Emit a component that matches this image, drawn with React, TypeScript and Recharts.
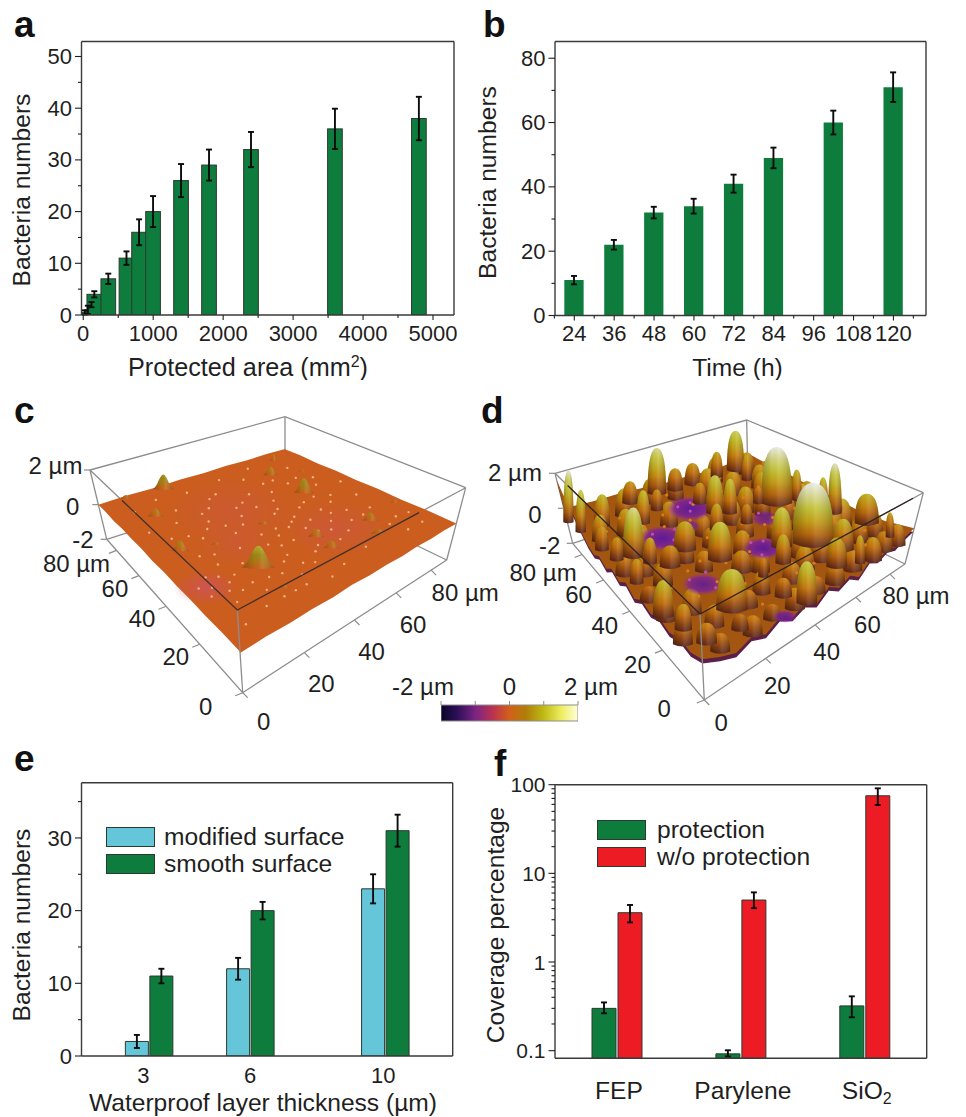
import React from 'react';
import { BarChart, Bar, XAxis, YAxis, ErrorBar, Legend, Label, ScatterChart, Scatter } from 'recharts';

// ---------- panel a ----------
const areaValues = [25, 68, 120, 160, 360, 620, 800, 1000, 1400, 1800, 2400, 3600, 4800];
const areaBacteria = [0.5, 1, 2, 4, 7, 11, 16, 20, 26, 29, 32, 36, 38];
const areaErrors = [0.4, 0.8, 0.5, 0.6, 1, 1.3, 2.5, 3, 3.2, 3, 3.4, 3.9, 4.2];
// ---------- panel b ----------
const timeValues = [24, 36, 48, 60, 72, 84, 102, 120];
const timeBacteria = [11, 22, 32, 34, 41, 49, 60, 71];
const timeErrors = [1.3, 1.5, 1.8, 2.3, 2.8, 3.2, 3.7, 4.6];
// ---------- panel e ----------
const thicknessValues = [3, 6, 10];
const modifiedValues = [2, 12, 23];
const modifiedErrors = [0.9, 1.5, 2];
const smoothValues = [11, 20, 31];
const smoothErrors = [1, 1.2, 2.2];
// ---------- panel f ----------
const materials = ['FEP', 'Parylene', 'SiO2'];
const protectionValues = [0.3, 0.092, 0.32];
const protectionErrors = [[0.036, 0.05], [0.006, 0.009], [0.082, 0.09]];
const noProtectionValues = [3.6, 5, 75];
const noProtectionErrors = [[0.8, 0.8], [0.95, 1.1], [16, 16]];
// ---------- panels c, d: surface features [u µm, v µm, top z µm, base width µm] ----------
const peaksC = [
  [24.5, 87, 0.85, 5.5], [22.5, 22.6, 1.15, 9], [65.6, 50, 0.85, 5.5], [65.8, 71, 0.5, 4], [69, 19.9, 0.45, 4.4],
  [47.2, 24.2, 0.4, 4.4], [9, 44.5, 0.55, 5], [12.5, 68.9, 0.45, 4.4], [46.3, 16.4, 0.4, 4.4], [64.5, 12.7, 0.25, 4.4],
  [22.4, 11, 0.2, 2.8], [38.7, 41, 0.2, 3.3], [9.8, 88.5, 0.2, 2.8], [19.5, 40.6, 0.15, 2.8], [86.3, 22.9, 0.2, 2.2],
  [76.8, 82.5, 0.4, 2], [78.8, 65.6, 0.12, 2.2],
];
const speckUV = [
  [5, 20], [8, 28], [12, 22], [14, 31], [9, 14], [17, 18], [20, 27], [26, 16], [30, 12], [33, 22], [37, 14], [40, 27], [43, 8], [48, 30],
  [52, 18], [55, 10], [58, 28], [61, 36], [64, 24], [68, 30], [72, 14], [76, 26], [80, 36], [84, 15], [72, 42], [66, 60], [58, 66], [52, 52],
  [46, 44], [42, 58], [36, 50], [30, 62], [25, 54], [20, 68], [16, 60], [10, 52], [6, 60], [8, 76], [18, 80], [30, 78], [38, 70], [46, 80],
  [54, 74], [62, 82], [70, 76], [78, 58], [84, 48], [76, 72], [34, 36], [28, 42], [24, 34], [18, 46], [12, 38], [40, 36], [50, 38], [44, 20],
  [60, 44], [68, 38], [28, 8], [36, 6], [14, 8], [6, 6], [74, 8], [82, 8],
  [4, 25], [7, 23], [10, 19], [11, 26], [15, 24], [13, 17], [18, 13], [22, 17], [24, 8], [32, 30], [35, 27], [38, 32], [44, 34], [47, 36],
  [53, 33], [56, 42], [49, 46], [44, 52], [38, 56], [33, 45], [28, 48], [22, 50], [15, 50], [26, 60], [34, 68], [48, 62], [56, 58], [63, 66],
  [72, 62], [74, 52], [66, 45], [62, 32], [70, 24], [78, 16], [54, 24], [58, 20], [50, 26], [41, 18], [34, 16], [30, 20], [20, 8], [16, 36],
];
const patchesC = [[5.8, 24.4, 11, 0.9], [35.7, 54.7, 22, 0.35], [55.6, 24, 18, 0.45], [24, 36, 14, 0.3]];
const sheetFrontLeftZ = [0, 0.03, -0.03, 0.03, 0.01, 0.04, -0.02, 0.03, 0, 0.02, -0.02, 0.01, -0.02];
const sheetFrontRightZ = [-0.08, -0.03, -0.06, -0.01, -0.05, 0.02, -0.03, 0, -0.04, 0.02, -0.01, 0.03, 0];
const sheetBackZ = [0.02, 0.05, 0.02, 0.06, 0.02, 0.05, 0.01, 0.04, 0];
const peaksD = [
  [84.5, 93, 1.4, 5.6], [40.4, 94, 1.7, 6], [75.7, 53.9, 2.3, 10], [64.3, 23, 2.4, 13.3], [9.9, 55.7, 1.7, 6.7], [31.8, 35.8, 1.1, 7.8],
  [25.8, 48.2, 0.6, 7.2], [19.7, 14.1, 1.1, 10], [53.8, 28.5, 1.2, 6.7], [47.1, 21, 0.6, 5], [33.3, 26.2, 0.15, 6.7], [16.7, 43, 0.15, 6.7],
  [49.8, 63.2, 1.2, 5.6], [50, 74.3, 0.2, 4.4], [54.6, 59.4, 1, 4.4], [48.6, 92, 0.3, 5], [26.8, 92.6, 0.3, 5], [72.3, 92.4, 0.5, 3.9],
  [88.3, 32.6, 1.9, 4.4], [86.7, 37.5, 0.9, 3.3], [91.7, 19.5, 0.7, 7.8], [69.3, 13.4, 0.75, 6.7], [59.6, 8.5, 0.6, 6.7], [38.5, 2.5, 1.2, 6.7],
  [35.2, 8.9, 0, 5.6], [3.2, 24, 0.85, 6.7], [4.2, 42, 0.3, 4.4], [4.8, 16.2, 0.3, 5.6], [16.6, 6.6, -0.2, 5.6], [3.3, 66.3, 0.3, 4.4],
  [4.7, 57.4, 0.25, 4.4], [1, 92.7, 2, 3.3], [2, 82.6, 1.4, 3.3], [37, 19.8, 0, 3.3], [42.5, 52.2, 0.5, 4.4], [23.2, 74, 0.9, 4.4],
  [32.7, 80.3, 0.2, 3.9], [54.7, 49, 0.1, 3.9], [90, 8, 0.4, 2.8], [84.7, 50.7, 0.8, 3.3], [81.3, 80.4, 0.5, 3.3], [6.9, 8.4, 0, 6.7],
  [12.5, 48.8, 0.4, 4.4], [67.3, 4.8, 0.55, 3.3], [69.5, 58.8, 0, 3.3],
];
const hillsD = [
  [8, 4, -0.1, 5], [18, 3, 0, 5], [26, 4, -0.2, 4.5], [34, 3, 0.1, 5], [44, 4, -0.1, 5], [52, 3, 0.2, 5], [62, 4, 0.1, 5], [72, 3, 0.3, 4.5], [80, 4, 0.1, 4.5], [87, 3, 0.2, 4],
  [2, 12, 0, 5], [12, 12, 0.1, 5], [24, 12, -0.1, 5], [31, 14, 0.2, 4.5], [42, 12, 0.1, 5], [50, 14, 0.3, 5], [58, 14, 0.4, 5], [66, 12, 0.5, 5], [78, 13, 0.4, 4.5], [86, 12, 0.3, 4.5],
  [3, 22, 0.1, 5], [10, 20, 0.3, 5], [28, 22, 0, 4], [38, 22, 0.2, 4.5], [54, 20, 0.3, 4.5], [74, 22, 0.5, 5], [82, 24, 0.6, 5],
  [3, 32, -0.2, 4.5], [10, 36, 0.2, 5], [24, 34, 0.1, 4.5], [40, 34, 0.3, 4.5], [56, 34, 0.3, 4.5], [68, 32, 0.5, 5], [78, 34, 0.6, 4.5],
  [3, 48, 0.1, 4.5], [8, 44, 0.3, 4.5], [22, 42, 0.2, 4.5], [34, 44, 0.1, 4.5], [48, 42, 0.2, 4.5], [62, 36, 0.2, 4], [70, 42, 0.3, 4.5], [80, 44, 0.5, 4.5],
  [14, 58, 0.4, 4.5], [28, 50, 0, 4], [36, 52, 0.2, 4], [50, 52, 0.4, 4.5], [64, 50, 0.3, 4], [76, 48, 0.2, 4], [86, 46, 0.3, 4],
  [5, 72, 0.5, 4], [14, 70, 0.5, 4.5], [30, 66, 0.4, 4.5], [48, 58, 0.4, 4], [60, 56, 0.5, 4.5], [74, 62, 0.5, 4], [84, 60, 0.3, 4],
  [10, 82, 0.8, 4], [20, 84, 0.6, 4.5], [34, 88, 0.4, 4.5], [44, 84, 0.5, 4], [58, 80, 0.5, 4.5], [66, 72, 0.4, 4.5], [80, 70, 0.4, 4], [88, 74, 0.2, 4],
  [58, 92, 0.3, 4], [68, 88, 0.5, 4], [86, 86, 0.3, 4],
];
const patchesD = [[22, 56.6, 8, 1], [41.8, 69, 8, 1], [45.8, 29.4, 7, 1], [18.4, 26.5, 7, 0.9], [86, 34, 5, 0.9], [28, 1, 4, 0.9], [60, 44, 5, 0.8], [34, 58, 4, 0.8]];
const rubbleD = [
  [10, 30], [14, 22], [22, 24], [28, 18], [30, 30], [24, 36], [38, 42], [40, 30], [46, 38], [56, 40], [62, 42], [66, 34], [70, 28], [78, 24],
  [82, 14], [74, 8], [52, 12], [44, 12], [26, 8], [10, 6], [18, 34], [36, 60], [44, 70], [60, 72], [68, 84], [30, 70], [20, 66], [12, 62],
  [58, 54], [64, 62], [76, 66], [74, 42], [50, 46], [34, 46], [26, 62], [40, 84], [56, 84], [16, 78], [8, 72],
];
const specksPurpleD = [[24, 52], [20, 60], [28, 58], [40, 66], [44, 72], [38, 72], [48, 32], [42, 26], [44, 34], [20, 22], [16, 30], [22, 30], [60, 48], [88, 30], [84, 38]];
const edgeFrontLeftZ = [1.6, 0.8, 0.3, -0.3, -0.8, -1, -0.7, -1, -0.6, -0.9, -0.5, -0.9, -0.5, -0.7, -0.4, -0.6, -0.3, -0.4, -0.1];
const edgeFrontRightZ = [-0.1, -0.5, -0.8, -0.5, -0.8, -0.4, -0.8, -0.5, -0.9, -0.4, -0.8, -0.5, -0.9, -0.3, -0.6, -0.3, -0.5, -0.2, 0];
// ---------- 3D axes ----------
const gridTicks = [0, 20, 40, 60, 80];
const heightTicks = [2, 0, -2];
const colorbarTicks = [-2, -1, 0, 1, 2];
const colorbarRange = [{ band: 'height', range: [-2, 2] }];
const colorbarStops = [[0, '#0a0528'], [0.12, '#2e0f58'], [0.25, '#7a2484'], [0.38, '#bb3350'], [0.5, '#d2601a'], [0.62, '#b07e08'], [0.75, '#c0ba14'], [0.88, '#eeee60'], [1, '#ffffdc']];

const ink = '#1f1f1f';
const green = '#0e7c3d';
const cyan = '#66c6d9';
const red = '#ed1c24';
const barEdge = '#2b3a30';
const frame = { stroke: '#3a3a3a', strokeWidth: 1.4 };
const FONT = '"Liberation Sans", Arial, sans-serif';

const zip = (xs: number[], ys: number[], es: number[]) => xs.map((x, i) => ({ x, value: ys[i], err: es[i] }));
const dataA = zip(areaValues, areaBacteria, areaErrors);
const dataB = zip(timeValues, timeBacteria, timeErrors);
const dataE = thicknessValues.map((x, i) => ({ x, modified: modifiedValues[i], modifiedErr: modifiedErrors[i], smooth: smoothValues[i], smoothErr: smoothErrors[i] }));
const dataF = materials.map((name, i) => ({ name, protection: protectionValues[i], protectionErr: protectionErrors[i], none: noProtectionValues[i], noneErr: noProtectionErrors[i] }));

// ---------- ticks ----------
const leftTick = (majors: number[], font = 22, fmt = (v: number) => String(v)) => (p: any) => {
  const v = p.payload.value;
  const major = majors.includes(v);
  return (
    <g>
      <line x1={p.x} x2={p.x - (major ? 6.5 : 3.5)} y1={p.y} y2={p.y} stroke={ink} strokeWidth={1.1} />
      {major ? <text x={p.x - 9.5} y={p.y + 7.6} textAnchor="end" fontSize={font} fill={ink}>{fmt(v)}</text> : null}
    </g>
  );
};
const rightTick = (majors: number[]) => (p: any) => (
  <line x1={p.x} x2={p.x - (majors.includes(p.payload.value) ? 5 : 3)} y1={p.y} y2={p.y} stroke={ink} strokeWidth={1.1} />
);
const bottomTick = (majors: number[]) => (p: any) => {
  const v = p.payload.value;
  const major = majors.includes(v);
  return (
    <g>
      <line x1={p.x} x2={p.x} y1={p.y} y2={p.y + (major ? 5 : 3)} stroke={ink} strokeWidth={1.1} />
      {major ? <text x={p.x} y={p.y + 25.8} textAnchor="middle" fontSize={22} fill={ink}>{v}</text> : null}
    </g>
  );
};
const thicknessLabelShift: Record<number, number> = { 3: -5.5, 6: 0, 10: -2 };
const thicknessTick = (p: any) => (
  <text x={p.x + thicknessLabelShift[p.payload.value]} y={p.y + 26.5} textAnchor="middle" fontSize={22} fill={ink}>{p.payload.value}</text>
);
const materialTick = (p: any) => {
  const v: string = p.payload.value;
  return (
    <text x={p.x + 2} y={p.y + 41} textAnchor="middle" fontSize={24.6} fill={ink}>
      {v === 'SiO2' ? (<><tspan>SiO</tspan><tspan fontSize={16} dy={5}>2</tspan></>) : v}
    </text>
  );
};
const yTitle = (text: string, x: number, y: number) => () => (
  <text x={x} y={y} textAnchor="middle" fontSize={24.6} fill={ink} transform={`rotate(-90 ${x} ${y})`}>{text}</text>
);
const xTitle = (text: React.ReactNode, x: number, y: number, size = 24.6) => () => (
  <text x={x} y={y} textAnchor="middle" fontSize={size} fill={ink}>{text}</text>
);
const areaBar = (p: any) => {
  const w = p.payload.value < 3 ? 7 : 14.7;
  return <rect x={p.x + p.width / 2 - w / 2} y={p.y} width={w} height={p.height} fill={green} stroke={barEdge} strokeWidth={1} />;
};
const errorStyle = { stroke: '#0c0c0c', strokeWidth: 1.9, isAnimationActive: false };
const legendColors: Record<string, string> = { 'modified surface': cyan, 'smooth surface': green, protection: green, 'w/o protection': red };
const legendBox = (names: string[], gap: number) => () => (
  <div>
    {names.map((n) => (
      <div key={n} style={{ display: 'flex', alignItems: 'center', height: 27, whiteSpace: 'nowrap', fontSize: 24.6, color: ink, fontFamily: FONT }}>
        <span style={{ display: 'inline-block', boxSizing: 'border-box', width: 49, height: 20, background: legendColors[n], border: `1px solid ${barEdge}`, marginRight: gap }} />
        {n}
      </div>
    ))}
  </div>
);

// ---------- perspective helpers for c, d ----------
type Pt = number[];
type Cam = { top: Pt[]; bottom: Pt[] };
const planeMap = ([o, r, b, l]: Pt[]) => {
  const sx = o[0] - r[0] + b[0] - l[0];
  const sy = o[1] - r[1] + b[1] - l[1];
  const dx1 = r[0] - b[0], dx2 = l[0] - b[0], dy1 = r[1] - b[1], dy2 = l[1] - b[1];
  const den = dx1 * dy2 - dx2 * dy1;
  const g = (sx * dy2 - dx2 * sy) / den;
  const h = (dx1 * sy - sx * dy1) / den;
  return (s: number, t: number) => {
    const w = g * s + h * t + 1;
    return [
      ((r[0] - o[0] + g * r[0]) * s + (l[0] - o[0] + h * l[0]) * t + o[0]) / w,
      ((r[1] - o[1] + g * r[1]) * s + (l[1] - o[1] + h * l[1]) * t + o[1]) / w,
    ];
  };
};
const makeProjection = (cam: Cam) => {
  const top = planeMap(cam.top);
  const bottom = planeMap(cam.bottom);
  return (u: number, v: number, z: number) => {
    const a = top(u / 90, v / 90), b = bottom(u / 90, v / 90), k = (z + 2) / 4;
    return { x: b[0] + (a[0] - b[0]) * k, y: b[1] + (a[1] - b[1]) * k };
  };
};
const camC: Cam = { top: [[237.3, 610], [465.7, 487.7], [285, 416.7], [90, 470]], bottom: [[242.7, 692.7], [446.7, 560], [285, 482], [106.7, 539.3]] };
const camD: Cam = { top: [[700, 614], [923.3, 492.7], [746.7, 420], [555, 473.3]], bottom: [[704.3, 700], [905, 564], [748, 486], [572.7, 543.3]] };
const projC = makeProjection(camC);
const projD = makeProjection(camD);

const hexLerp = (a: string, b: string, t: number) => {
  const p = (h: string, i: number) => parseInt(h.slice(1 + i * 2, 3 + i * 2), 16);
  const c = [0, 1, 2].map((i) => Math.round(p(a, i) + (p(b, i) - p(a, i)) * t));
  return `rgb(${c[0]},${c[1]},${c[2]})`;
};
const rampD: [number, string][] = [[-1, '#5a2418'], [-0.6, '#94470f'], [-0.2, '#c8720c'], [0.3, '#c49a12'], [0.9, '#c2c02c'], [1.5, '#cfcf60'], [2, '#e6e6d6'], [2.5, '#f2f2f2']];
const rampC: [number, string][] = [[0, '#c9601c'], [0.3, '#b87414'], [0.7, '#9c8a14'], [1.2, '#c0b030']];
const rampColor = (ramp: [number, string][], z: number) => {
  if (z <= ramp[0][0]) return ramp[0][1];
  for (let i = 1; i < ramp.length; i++) {
    if (z <= ramp[i][0]) return hexLerp(ramp[i - 1][1], ramp[i][1], (z - ramp[i - 1][0]) / (ramp[i][0] - ramp[i - 1][0]));
  }
  return ramp[ramp.length - 1][1];
};

const lineOf = (proj: any, pts: number[][]) => pts.map(([u, v, z]) => proj(u, v, z));
const edgesBehind = [
  [[0, 90, 2], [90, 90, 2], [90, 0, 2]],
  [[0, 90, -2], [90, 90, -2], [90, 0, -2]],
  [[90, 90, 2], [90, 90, -2]],
  [[0, 90, 2], [0, 90, -2]],
  [[90, 0, 2], [90, 0, -2]],
  [[0, 90, -2], [0, 0, -2], [90, 0, -2]],
  [[0, 90, 2], [0, 0, 2], [90, 0, 2]],
];
const edgeFront = [[0, 0, 2], [0, 0, -2]];
const darkEdgeC = [[0, 62, 2], [0, 0, 2], [65, 0, 2]];
const darkEdgeD = [[0, 78, 2], [0, 0, 2], [84, 0, 2]];

const polygonPath = (p: any) => {
  const dx = p.cx - p.payload.x, dy = p.cy - p.payload.y;
  return p.payload.poly.map((q: any, i: number) => `${i ? 'L' : 'M'}${q.x + dx},${q.y + dy}`).join('') + 'Z';
};
const perimeter = (proj: any, leftZ: number[], rightZ: number[], backZ: number[], sink = 0) => {
  const n = leftZ.length - 1, m = rightZ.length - 1, b = backZ.length - 1;
  const pts: any[] = [];
  leftZ.forEach((z, i) => pts.push(proj(0, 90 - (90 * i) / n, z - sink)));
  rightZ.forEach((z, i) => pts.push(proj((90 * i) / m, 0, z - sink)));
  backZ.forEach((z, i) => pts.push(proj(90, (90 * i) / b, z - sink)));
  backZ.forEach((z, i) => pts.push(proj(90 - (90 * i) / b, 90, z - sink)));
  return pts;
};
const polygonDatum = (proj: any, poly: any[]) => [{ ...proj(45, 45, 0), poly }];

const peakData = (proj: any, list: number[][], baseZ: number, tag: string, spread: number) =>
  [...list].sort((p, q) => q[0] + q[1] - (p[0] + p[1])).map((p, i) => {
    const base = proj(p[0], p[1], baseZ);
    const top = proj(p[0], p[1], p[2]);
    return { ...base, H: base.y - top.y, hw: p[3] * spread, zTop: p[2], baseZ, id: `${tag}${i}` };
  });
const peakShape = (ramp: [number, string][], shadeId: string, bullet: boolean) => (p: any) => {
  const { H, hw, zTop, baseZ, id } = p.payload;
  const { cx, cy } = p;
  const d = bullet
    ? `M${cx - hw},${cy} C${cx - hw},${cy - H * 0.62} ${cx - hw * 0.72},${cy - H} ${cx},${cy - H} C${cx + hw * 0.72},${cy - H} ${cx + hw},${cy - H * 0.62} ${cx + hw},${cy} Q${cx},${cy + hw * 0.45} ${cx - hw},${cy} Z`
    : `M${cx - hw * 1.25},${cy} C${cx - hw * 0.7},${cy - H * 0.12} ${cx - hw * 0.42},${cy - H} ${cx},${cy - H} C${cx + hw * 0.42},${cy - H} ${cx + hw * 0.7},${cy - H * 0.12} ${cx + hw * 1.25},${cy} Q${cx},${cy + hw * 0.25} ${cx - hw * 1.25},${cy} Z`;
  const fr = [0, 0.2, 0.4, 0.6, 0.8, 1];
  return (
    <g>
      <linearGradient id={id} x1="0" y1="0" x2="0" y2="1">
        {fr.map((f) => <stop key={f} offset={f} stopColor={rampColor(ramp, zTop + (baseZ - zTop) * f)} />)}
      </linearGradient>
      <path d={d} fill={`url(#${id})`} />
      <path d={d} fill={`url(#${shadeId})`} />
    </g>
  );
};
const textShape = (size: number) => (p: any) => (
  <text x={p.cx + p.payload.dx} y={p.cy + p.payload.dy} textAnchor="middle" dy="0.36em" fontSize={size} fill={ink}>{p.payload.text}</text>
);
const tickShape = (p: any) => (
  <line x1={p.cx} y1={p.cy} x2={p.cx + p.payload.tx} y2={p.cy + p.payload.ty} stroke="#8d8d8d" strokeWidth={1.2} />
);
const dotShape = (fill: string, r: number) => (p: any) => <circle cx={p.cx} cy={p.cy} r={r} fill={fill} />;
const patchShape = (gradId: string) => (p: any) => (
  <ellipse cx={p.cx} cy={p.cy} rx={p.payload.r * 3} ry={p.payload.r * 1.6} fill={`url(#${gradId})`} opacity={p.payload.o} />
);
const noMark = () => <g />;

type Off = Record<string, number[]>;
const pick = (o: Off, k: number) => o[k] ?? o.other;
const axisLabels = (proj: any, left: Off, right: Off, zOff: Off, lastText: string) => {
  const out: any[] = [];
  gridTicks.forEach((t) => {
    const a = proj(0, t, -2), oa = pick(left, t);
    out.push({ ...a, dx: oa[0], dy: oa[1], text: t === 80 ? lastText : String(t) });
    const b = proj(t, 0, -2), ob = pick(right, t);
    out.push({ ...b, dx: ob[0], dy: ob[1], text: t === 80 ? lastText : String(t) });
  });
  heightTicks.forEach((z) => {
    const c = proj(0, 90, z), oc = pick(zOff, z);
    out.push({ ...c, dx: oc[0], dy: oc[1], text: z === 2 ? `2 ${'\u00b5'}m` : String(z) });
  });
  return out;
};
const axisMarks = (proj: any) => {
  const out: any[] = [];
  gridTicks.forEach((t) => {
    out.push({ ...proj(0, t, -2), tx: -7.5, ty: 3 });
    out.push({ ...proj(t, 0, -2), tx: 5, ty: 5 });
  });
  heightTicks.forEach((z) => out.push({ ...proj(0, 90, z), tx: -6, ty: 0 }));
  return out;
};

const SurfaceAxes = ({ w, h, xMin, yMin, children }: any) => (
  <ScatterChart width={w} height={h} margin={{ top: 0, right: 0, bottom: 0, left: 0 }}>
    <XAxis type="number" dataKey="x" domain={[xMin, xMin + w]} hide allowDataOverflow />
    <YAxis type="number" dataKey="y" domain={[yMin, yMin + h]} reversed hide allowDataOverflow />
    {children}
  </ScatterChart>
);
const edge = (k: any, data: any[], stroke: string, width = 1.3) => (
  <Scatter key={k} data={data} line={{ stroke, strokeWidth: width }} lineType="joint" shape={noMark} isAnimationActive={false} />
);

const labelsC = axisLabels(projC, { 0: [-37, 14], 80: [-40, 13], other: [-24, 12.5] }, { 0: [21, 29], 80: [34, 22], other: [17, 31] }, { 2: [-34.5, -5], 0: [-25.6, 2], '-2': [-23.7, 0] }, `80 ${'\u00b5'}m`);
const labelsD = axisLabels(projD, { 0: [-40, 8], 80: [-39, 18], other: [-25, 14] }, { 0: [17, 22], 80: [26, 21], other: [11.5, 27] }, { 2: [-40, -0.6], 0: [-29, 6], '-2': [-23, 2] }, `80 ${'\u00b5'}m`);

function PanelC() {
  const sheet = polygonDatum(projC, perimeter(projC, sheetFrontLeftZ, sheetFrontRightZ, sheetBackZ));
  return (
    <SurfaceAxes w={510} h={345} xMin={0} yMin={390}>
      <defs>
        <radialGradient id="pinkC"><stop offset="0" stopColor="#d0506a" stopOpacity={0.75} /><stop offset="1" stopColor="#d0506a" stopOpacity={0} /></radialGradient>
        <linearGradient id="shade" x1="0" y1="0" x2="1" y2="0">
          <stop offset="0" stopColor="#000" stopOpacity={0.25} /><stop offset="0.4" stopColor="#000" stopOpacity={0.02} />
          <stop offset="0.6" stopColor="#fff" stopOpacity={0.1} /><stop offset="1" stopColor="#000" stopOpacity={0.25} />
        </linearGradient>
      </defs>
      {edgesBehind.map((e, i) => edge(`c${i}`, lineOf(projC, e), '#8d8d8d'))}
      <Scatter data={sheet} shape={(p: any) => <path d={polygonPath(p)} fill="#cb5d1e" />} isAnimationActive={false} />
      <Scatter data={patchesC.map(([u, v, r, o]) => ({ ...projC(u, v, 0), r, o }))} shape={patchShape('pinkC')} isAnimationActive={false} />
      <Scatter data={speckUV.map(([u, v]) => projC(u, v, 0.02))} shape={dotShape('#f0b083', 1.2)} isAnimationActive={false} />
      <Scatter data={peakData(projC, peaksC, 0, 'pc', 1.5)} shape={peakShape(rampC, 'shade', false)} isAnimationActive={false} />
      {edge('cf', lineOf(projC, edgeFront), '#8d8d8d')}
      {edge('cd', lineOf(projC, darkEdgeC), '#40302a')}
      <Scatter data={axisMarks(projC)} shape={tickShape} isAnimationActive={false} />
      <Scatter data={labelsC} shape={textShape(24)} isAnimationActive={false} />
    </SurfaceAxes>
  );
}
function PanelD() {
  const backZ = [0, -0.3, -0.4, -0.3, -0.3, -0.2, -0.1, -0.1, 0];
  const skirt = polygonDatum(projD, perimeter(projD, edgeFrontLeftZ, edgeFrontRightZ, backZ, 0.2));
  const floor = polygonDatum(projD, perimeter(projD, edgeFrontLeftZ, edgeFrontRightZ, backZ));
  return (
    <SurfaceAxes w={486} h={345} xMin={480} yMin={390}>
      <defs>
        <radialGradient id="purpleD"><stop offset="0" stopColor="#5d1a96" /><stop offset="0.65" stopColor="#7a209a" stopOpacity={0.85} /><stop offset="1" stopColor="#a0309a" stopOpacity={0} /></radialGradient>
        <linearGradient id="shadeD" x1="0" y1="0" x2="1" y2="0">
          <stop offset="0" stopColor="#000" stopOpacity={0.28} /><stop offset="0.35" stopColor="#000" stopOpacity={0.02} />
          <stop offset="0.55" stopColor="#fff" stopOpacity={0.1} /><stop offset="1" stopColor="#000" stopOpacity={0.25} />
        </linearGradient>
      </defs>
      {edgesBehind.map((e, i) => edge(`d${i}`, lineOf(projD, e), '#8d8d8d'))}
      <Scatter data={skirt} shape={(p: any) => <path d={polygonPath(p)} fill="#5c1f48" />} isAnimationActive={false} />
      <Scatter data={floor} shape={(p: any) => <path d={polygonPath(p)} fill="#a2560f" />} isAnimationActive={false} />
      <Scatter data={peakData(projD, hillsD, -1, 'hd', 2)} shape={peakShape(rampD, 'shadeD', true)} isAnimationActive={false} />
      <Scatter data={patchesD.map(([u, v, r, o]) => ({ ...projD(u, v, -0.7), r, o }))} shape={patchShape('purpleD')} isAnimationActive={false} />
      <Scatter data={rubbleD.map(([u, v]) => projD(u, v, -0.6))} shape={dotShape('#d87c1a', 1.6)} isAnimationActive={false} />
      <Scatter data={specksPurpleD.map(([u, v]) => projD(u, v, -0.6))} shape={dotShape('#c24bb0', 1.6)} isAnimationActive={false} />
      <Scatter data={peakData(projD, peaksD, -1, 'pd', 1.55)} shape={peakShape(rampD, 'shadeD', true)} isAnimationActive={false} />
      {edge('df', lineOf(projD, edgeFront), '#8d8d8d')}
      {edge('dd', lineOf(projD, darkEdgeD), '#2e2320')}
      <Scatter data={axisMarks(projD)} shape={tickShape} isAnimationActive={false} />
      <Scatter data={labelsD} shape={textShape(24)} isAnimationActive={false} />
    </SurfaceAxes>
  );
}
const colorbarTick = (p: any) => {
  const v = p.payload.value;
  const text = v === -2 ? `-2 ${'\u00b5'}m` : v === 2 ? `2 ${'\u00b5'}m` : v === 0 ? '0' : '';
  const shift = v === -2 ? -18 : v === 2 ? 13 : 0;
  return (
    <g>
      <line x1={p.x} x2={p.x} y1={p.y} y2={p.y - 4} stroke="#8d8d8d" strokeWidth={1} />
      <text x={p.x + shift} y={p.y - 10.5} textAnchor="middle" fontSize={24} fill={ink}>{text}</text>
    </g>
  );
};
function Colorbar() {
  return (
    <BarChart layout="vertical" width={240} height={55} data={colorbarRange} barCategoryGap={0} margin={{ top: 0, right: 52, bottom: 6.3, left: 51 }}>
      <defs>
        <linearGradient id="cbar" x1="0" y1="0" x2="1" y2="0">
          {colorbarStops.map(([o, c]) => <stop key={o as number} offset={o as number} stopColor={c as string} />)}
        </linearGradient>
      </defs>
      <XAxis type="number" orientation="top" domain={[-2, 2]} ticks={colorbarTicks} interval={0} height={33} axisLine={false} tickLine={false} tickSize={0} tickMargin={0} tick={colorbarTick} allowDataOverflow />
      <YAxis type="category" dataKey="band" hide />
      <Bar dataKey="range" fill="url(#cbar)" stroke="#8d8d8d" strokeWidth={1} isAnimationActive={false} />
    </BarChart>
  );
}

const ticksA = [0, 5, 10, 15, 20, 25, 30, 35, 40, 45, 50];
const ticksAx = [0, 500, 1000, 1500, 2000, 2500, 3000, 3500, 4000, 4500, 5000];
const ticksB = [0, 10, 20, 30, 40, 50, 60, 70, 80];
const ticksBx = [18, 24, 30, 36, 42, 48, 54, 60, 66, 72, 78, 84, 90, 96, 102, 108, 114, 120, 126];
const ticksE = [0, 5, 10, 15, 20, 25, 30, 35];
const ticksF = [0.1, 0.2, 0.3, 0.4, 0.5, 0.6, 0.7, 0.8, 0.9, 1, 2, 3, 4, 5, 6, 7, 8, 9, 10, 20, 30, 40, 50, 60, 70, 80, 90, 100];
const axisZero = { tickSize: 0, tickMargin: 0, tickLine: false, interval: 0 as const };
const unitDomain: [number, number] = [0, 1];

const PanelLetter = ({ t, x, base }: any) => (
  <div style={{ position: 'absolute', left: x, top: base - 31.3, fontSize: 37, lineHeight: 1, fontWeight: 700, color: '#111', fontFamily: FONT }}>{t}</div>
);
const Place = ({ x, y, children }: any) => <div style={{ position: 'absolute', left: x, top: y }}>{children}</div>;

export default function App() {
  return (
    <div style={{ position: 'absolute', left: 0, top: 0, width: 966, height: 1117, background: '#fff', fontFamily: FONT, overflow: 'hidden' }}>
      <Place x={0} y={30}>
        <BarChart width={470} height={350} data={dataA} margin={{ top: 10.5, right: 15, bottom: 0, left: 0 }}>
          <XAxis type="number" dataKey="x" domain={[-25, 5300]} ticks={ticksAx} height={65} axisLine={frame} tick={bottomTick([0, 1000, 2000, 3000, 4000, 5000])} {...axisZero} allowDataOverflow>
            <Label content={xTitle(<><tspan>Protected area (mm</tspan><tspan fontSize={16} dy={-9}>2</tspan><tspan dy={9}>)</tspan></>, 248, 346, 25.2)} />
          </XAxis>
          <XAxis xAxisId="t" orientation="top" type="number" domain={unitDomain} height={1} tick={false} axisLine={frame} tickLine={false} />
          <YAxis type="number" domain={[0, 52.9]} ticks={ticksA} width={81.5} axisLine={frame} tick={leftTick([0, 10, 20, 30, 40, 50])} {...axisZero} allowDataOverflow>
            <Label content={yTitle('Bacteria numbers', 30, 160)} />
          </YAxis>
          <YAxis yAxisId="r" orientation="right" type="number" domain={[0, 52.9]} ticks={ticksA} width={1} axisLine={frame} tick={rightTick([0, 10, 20, 30, 40, 50])} {...axisZero} />
          <Bar dataKey="value" barSize={14.7} shape={areaBar} isAnimationActive={false}>
            <ErrorBar dataKey="err" width={3} {...errorStyle} />
          </Bar>
        </BarChart>
      </Place>

      <Place x={470} y={30}>
        <BarChart width={480} height={350} data={dataB} margin={{ top: 10.5, right: 23, bottom: 0, left: 0 }}>
          <XAxis type="number" dataKey="x" domain={[18.2, 129.8]} ticks={ticksBx} height={64.5} axisLine={frame} tick={bottomTick([24, 36, 48, 60, 72, 84, 96, 108, 120])} {...axisZero} allowDataOverflow>
            <Label content={xTitle('Time (h)', 267.5, 346)} />
          </XAxis>
          <XAxis xAxisId="t" orientation="top" type="number" domain={unitDomain} height={1} tick={false} axisLine={frame} tickLine={false} />
          <YAxis type="number" domain={[0, 85.2]} ticks={ticksB} width={85} axisLine={frame} tick={leftTick([0, 20, 40, 60, 80])} {...axisZero} allowDataOverflow>
            <Label content={yTitle('Bacteria numbers', 26, 152.5)} />
          </YAxis>
          <YAxis yAxisId="r" orientation="right" type="number" domain={unitDomain} width={1} axisLine={frame} tick={false} tickLine={false} />
          <Bar dataKey="value" barSize={19.3} fill={green} isAnimationActive={false}>
            <ErrorBar dataKey="err" width={3} {...errorStyle} />
          </Bar>
        </BarChart>
      </Place>

      <Place x={0} y={390}><PanelC /></Place>
      <Place x={480} y={390}><PanelD /></Place>
      <Place x={390} y={672}><Colorbar /></Place>

      <Place x={0} y={745}>
        <BarChart width={470} height={372} data={dataE} barGap={1.5} margin={{ top: 36.7, right: 16.3, bottom: 0, left: 0 }}>
          <XAxis type="number" dataKey="x" domain={[1, 12]} ticks={thicknessValues} height={61} axisLine={frame} tick={thicknessTick} {...axisZero} allowDataOverflow>
            <Label content={xTitle('Waterproof layer thickness (\u00b5m)', 263, 366)} />
          </XAxis>
          <XAxis xAxisId="t" orientation="top" type="number" domain={unitDomain} height={1} tick={false} axisLine={frame} tickLine={false} />
          <YAxis type="number" domain={[0, 37.6]} ticks={ticksE} width={81.5} axisLine={frame} tick={leftTick([0, 10, 20, 30])} {...axisZero} allowDataOverflow>
            <Label content={yTitle('Bacteria numbers', 30, 180)} />
          </YAxis>
          <YAxis yAxisId="r" orientation="right" type="number" domain={unitDomain} width={1} axisLine={frame} tick={false} tickLine={false} />
          <Legend layout="horizontal" align="center" verticalAlign="middle" wrapperStyle={{ left: 106, top: 78.5, width: 280, height: 56 }} content={legendBox(['modified surface', 'smooth surface'], 9)} />
          <Bar dataKey="modified" name="modified surface" barSize={23} fill={cyan} stroke={barEdge} isAnimationActive={false}>
            <ErrorBar dataKey="modifiedErr" width={3} {...errorStyle} />
          </Bar>
          <Bar dataKey="smooth" name="smooth surface" barSize={23} fill={green} stroke={barEdge} isAnimationActive={false}>
            <ErrorBar dataKey="smoothErr" width={3} {...errorStyle} />
          </Bar>
        </BarChart>
      </Place>

      <Place x={480} y={745}>
        <BarChart width={486} height={372} data={dataF} barGap={2} margin={{ top: 38.7, right: 38.3, bottom: 0, left: 0 }}>
          <XAxis type="category" dataKey="name" height={58.7} axisLine={frame} tick={materialTick} {...axisZero} />
          <XAxis xAxisId="t" orientation="top" type="number" domain={unitDomain} height={1} tick={false} axisLine={frame} tickLine={false} />
          <YAxis type="number" scale="log" domain={[0.082, 100]} ticks={ticksF} width={75} axisLine={frame} tick={leftTick([0.1, 1, 10, 100], 21)} {...axisZero} allowDataOverflow>
            <Label content={yTitle('Coverage percentage', 24, 180)} />
          </YAxis>
          <YAxis yAxisId="r" orientation="right" type="number" domain={unitDomain} width={1} axisLine={frame} tick={false} tickLine={false} />
          <Legend layout="horizontal" align="center" verticalAlign="middle" wrapperStyle={{ left: 117, top: 71.5, width: 280, height: 56 }} content={legendBox(['protection', 'w/o protection'], 11)} />
          <Bar dataKey="protection" name="protection" barSize={24} fill={green} stroke={barEdge} isAnimationActive={false}>
            <ErrorBar dataKey="protectionErr" width={3} {...errorStyle} />
          </Bar>
          <Bar dataKey="none" name="w/o protection" barSize={24} fill={red} stroke={barEdge} isAnimationActive={false}>
            <ErrorBar dataKey="noneErr" width={3} {...errorStyle} />
          </Bar>
        </BarChart>
      </Place>

      <PanelLetter t="a" x={14} base={37} />
      <PanelLetter t="b" x={483} base={37} />
      <PanelLetter t="c" x={14} base={423} />
      <PanelLetter t="d" x={481} base={423} />
      <PanelLetter t="e" x={14} base={771} />
      <PanelLetter t="f" x={494} base={776} />
    </div>
  );
}
